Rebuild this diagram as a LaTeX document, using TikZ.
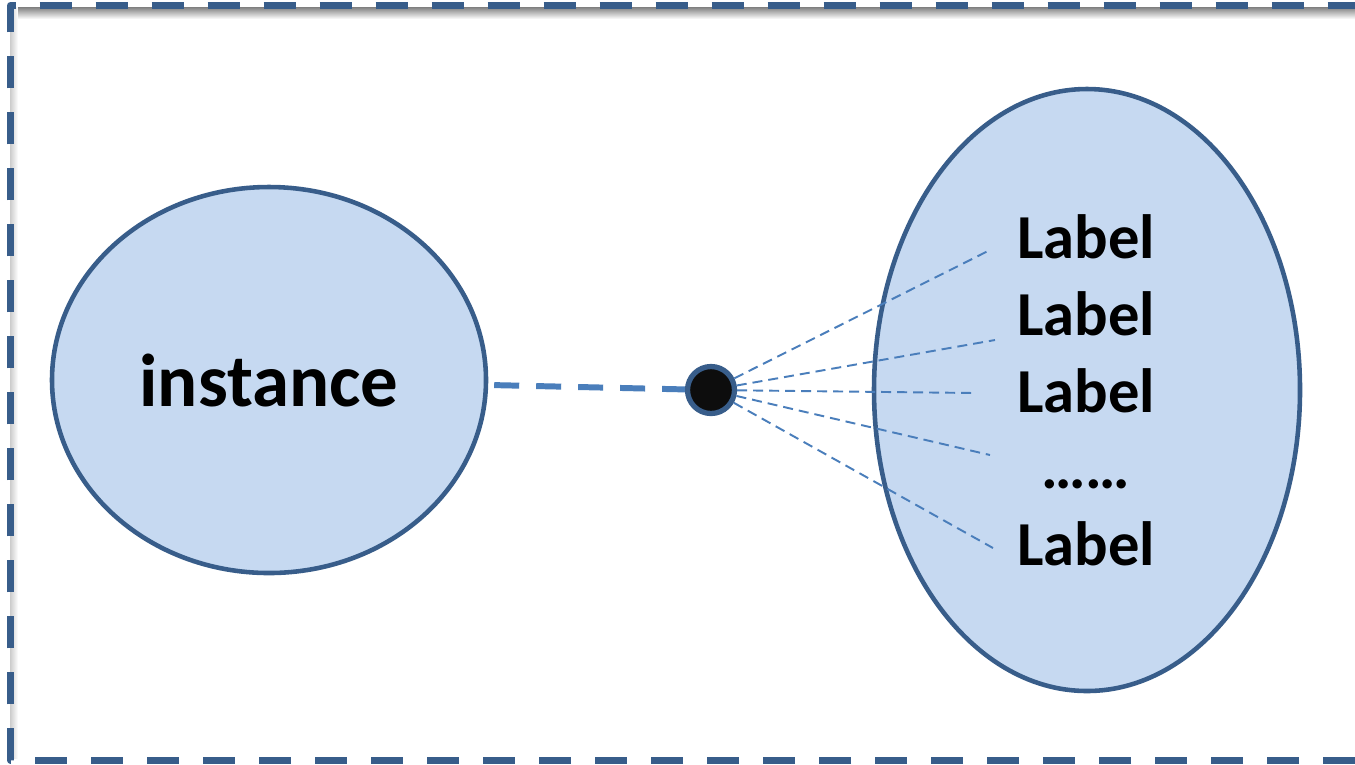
\documentclass[tikz,border=0pt]{standalone}
\usepackage{fontspec}
\setmainfont{Carlito}
\usetikzlibrary{shapes.geometric,calc}
\definecolor{rob}{HTML}{385D8A}
\definecolor{polnilo}{HTML}{C6D9F1}
\definecolor{crta}{HTML}{4A7EBB}
\tikzset
{
  frame/.style={draw=rob,line width=2pt,dash pattern=on 0.32cm off 0.24cm},
  blob/.style={ellipse,draw=rob,line width=1.3pt,fill=polnilo,inner sep=0pt},
  joint/.style={circle,draw=rob,line width=1.5pt,fill=black!95,minimum size=0.47cm,inner sep=0pt},
  link/.style={crta,line width=1.7pt,dash pattern=on 0.25cm off 0.17cm},
  ray/.style={crta,line width=0.55pt,dash pattern=on 0.1cm off 0.06cm},
  tag/.style={font=\fontsize{17.8}{20}\selectfont\bfseries,inner sep=0pt,anchor=base}
}
\begin{document}
\begin{tikzpicture}[line join=round]
            \useasboundingbox (0,0) rectangle (13.55,-7.64);
            % senca okvirja
            \shade[top color=black!50,bottom color=white] (0.105,-0.07) rectangle (13.55,-0.19);
            \shade[left color=black!20,right color=white] (0.10,-0.07) rectangle (0.18,-7.58);
            % okvir (desni rob je izven slike)
            \draw[frame] (13.55,-7.60) -- (0.105,-7.60) -- (0.105,-0.055) -- (13.55,-0.055);
            % elipsi
            \node[blob,minimum width=4.34cm,minimum height=3.86cm,font=\fontsize{21.3}{24}\selectfont\bfseries] (inst) at (2.69,-3.80) {instance};
            \node[blob,minimum width=4.26cm,minimum height=6.02cm] (set) at (10.87,-3.90) {};
            % oznake
            \node[tag] (l1) at (10.86,-2.58) {Label};
            \node[tag] (l2) at (10.86,-3.35) {Label};
            \node[tag] (l3) at (10.86,-4.12) {Label};
            \node[tag] (l4) at (10.86,-4.88) {……};
            \node[tag] (l5) at (10.86,-5.65) {Label};
            % konci crt
            \coordinate (e1) at (9.90,-2.50);
            \coordinate (e2) at (9.95,-3.40);
            \coordinate (e3) at (9.75,-3.93);
            \coordinate (e4) at (9.90,-4.55);
            \coordinate (e5) at (9.93,-5.48);
            % tocka
            \node[joint] (pt) at (7.11,-3.90) {};
            % povezava
            \draw[link,shorten <=0.06cm] (inst) -- (pt);
            \foreach\i in{1,...,5}
              \draw[ray] (pt) -- (e\i);
\end{tikzpicture}
\end{document}
